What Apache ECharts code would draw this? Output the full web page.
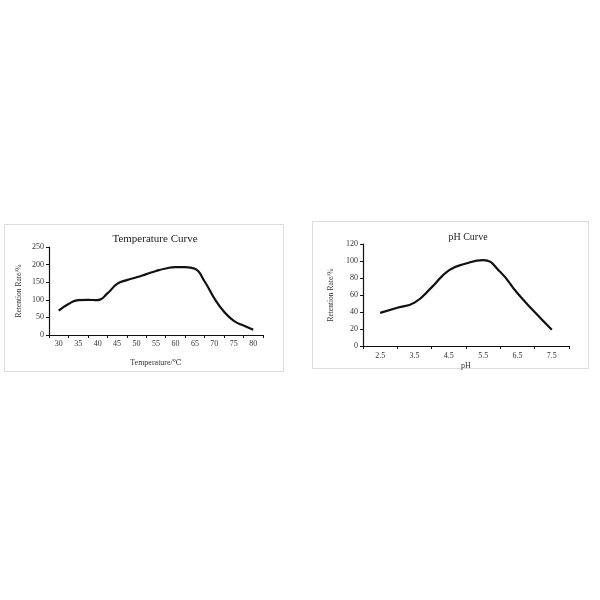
<!DOCTYPE html>
<html>
<head>
<meta charset="utf-8">
<script src="https://cdn.jsdelivr.net/npm/echarts@6/dist/echarts.min.js"></script>
<style>html,body{margin:0;padding:0;background:#fff;}#c{width:600px;height:600px;}</style>
</head>
<body>
<div id="c"></div>
<script>
// Temperature chart: categories every 2.5 °C; labels shown at 30..80, ticks between
var tempCategories = ['27.5','30','32.5','35','37.5','40','42.5','45','47.5','50','52.5','55','57.5','60','62.5','65','67.5','70','72.5','75','77.5','80','82.5'];
var tempValues = [null,69,88,99,100,99,118,145,156,164,173,182,189,193,193,188,152,104,66,40,27,15,null];
// pH chart: categories every 0.5; labels at 2.5..7.5, ticks at integers
var phCategories = ['2.0','2.5','3.0','3.5','4.0','4.5','5.0','5.5','6.0','6.5','7.0','7.5','8.0'];
var phValues = [null,39,45,51,69,89,97,101,87,62,40,19,null];
var tempYTicks = {min:0, max:250, interval:50};
var phYTicks = {min:0, max:120, interval:20};

var font = '"Liberation Serif", "DejaVu Serif", serif';
var chart = echarts.init(document.getElementById('c'), null, {renderer:'canvas'});
var axisLine = {lineStyle:{color:'#111', width:1.2}};
var labelStyle = {fontFamily:font, fontSize:8, color:'#333'};
function oddIdx(i){ return i % 2 === 1; }
function evenIdx(i){ return i % 2 === 0; }

chart.setOption({
  backgroundColor:'#fff',
  animation:false,
  graphic:[
    {type:'rect', shape:{x:4.5, y:224.5, width:279, height:147}, style:{fill:'none', stroke:'#dcdcdc', lineWidth:1}},
    {type:'rect', shape:{x:312.5, y:221.5, width:276, height:147}, style:{fill:'none', stroke:'#dcdcdc', lineWidth:1}}
  ],
  title:[
    {text:'Temperature Curve', left:150, top:229, textAlign:'center', textStyle:{fontFamily:font, fontSize:11, fontWeight:'normal', color:'#222'}},
    {text:'pH Curve', left:463, top:227, textAlign:'center', textStyle:{fontFamily:font, fontSize:10, fontWeight:'normal', color:'#222'}}
  ],
  grid:[
    {left:49, right:337, top:247, bottom:265},
    {left:363, right:31, top:244, bottom:254}
  ],
  xAxis:[
    {type:'category', gridIndex:0, data:tempCategories, boundaryGap:false,
     name:'Temperature/℃', nameLocation:'middle', nameGap:24, nameTextStyle:{fontFamily:font, fontSize:8, color:'#333'},
     axisLine:axisLine, axisTick:{interval:evenIdx, length:3, lineStyle:{color:'#111'}},
     axisLabel:Object.assign({interval:oddIdx, margin:5}, labelStyle), splitLine:{show:false}},
    {type:'category', gridIndex:1, data:phCategories, boundaryGap:false,
     name:'pH', nameLocation:'middle', nameGap:16, nameTextStyle:{fontFamily:font, fontSize:8, color:'#333'},
     axisLine:axisLine, axisTick:{interval:evenIdx, length:3, lineStyle:{color:'#111'}},
     axisLabel:Object.assign({interval:oddIdx, margin:6}, labelStyle), splitLine:{show:false}}
  ],
  yAxis:[
    {type:'value', gridIndex:0, min:tempYTicks.min, max:tempYTicks.max, interval:tempYTicks.interval,
     name:'Retention Rate/%', nameLocation:'middle', nameGap:26, nameTextStyle:{fontFamily:font, fontSize:7.5, color:'#333'},
     axisLine:Object.assign({show:true}, axisLine), axisTick:{show:true, length:3, lineStyle:{color:'#111'}},
     axisLabel:Object.assign({margin:5}, labelStyle), splitLine:{show:false}},
    {type:'value', gridIndex:1, min:phYTicks.min, max:phYTicks.max, interval:phYTicks.interval,
     name:'Retention Rate/%', nameLocation:'middle', nameGap:28, nameTextStyle:{fontFamily:font, fontSize:7.5, color:'#333'},
     axisLine:Object.assign({show:true}, axisLine), axisTick:{show:true, length:3, lineStyle:{color:'#111'}},
     axisLabel:Object.assign({margin:5}, labelStyle), splitLine:{show:false}}
  ],
  series:[
    {type:'line', xAxisIndex:0, yAxisIndex:0, data:tempValues, smooth:0.5, showSymbol:false,
     lineStyle:{color:'#111', width:2.2}},
    {type:'line', xAxisIndex:1, yAxisIndex:1, data:phValues, smooth:0.5, showSymbol:false,
     lineStyle:{color:'#111', width:2.2}}
  ]
});
</script>
</body>
</html>
